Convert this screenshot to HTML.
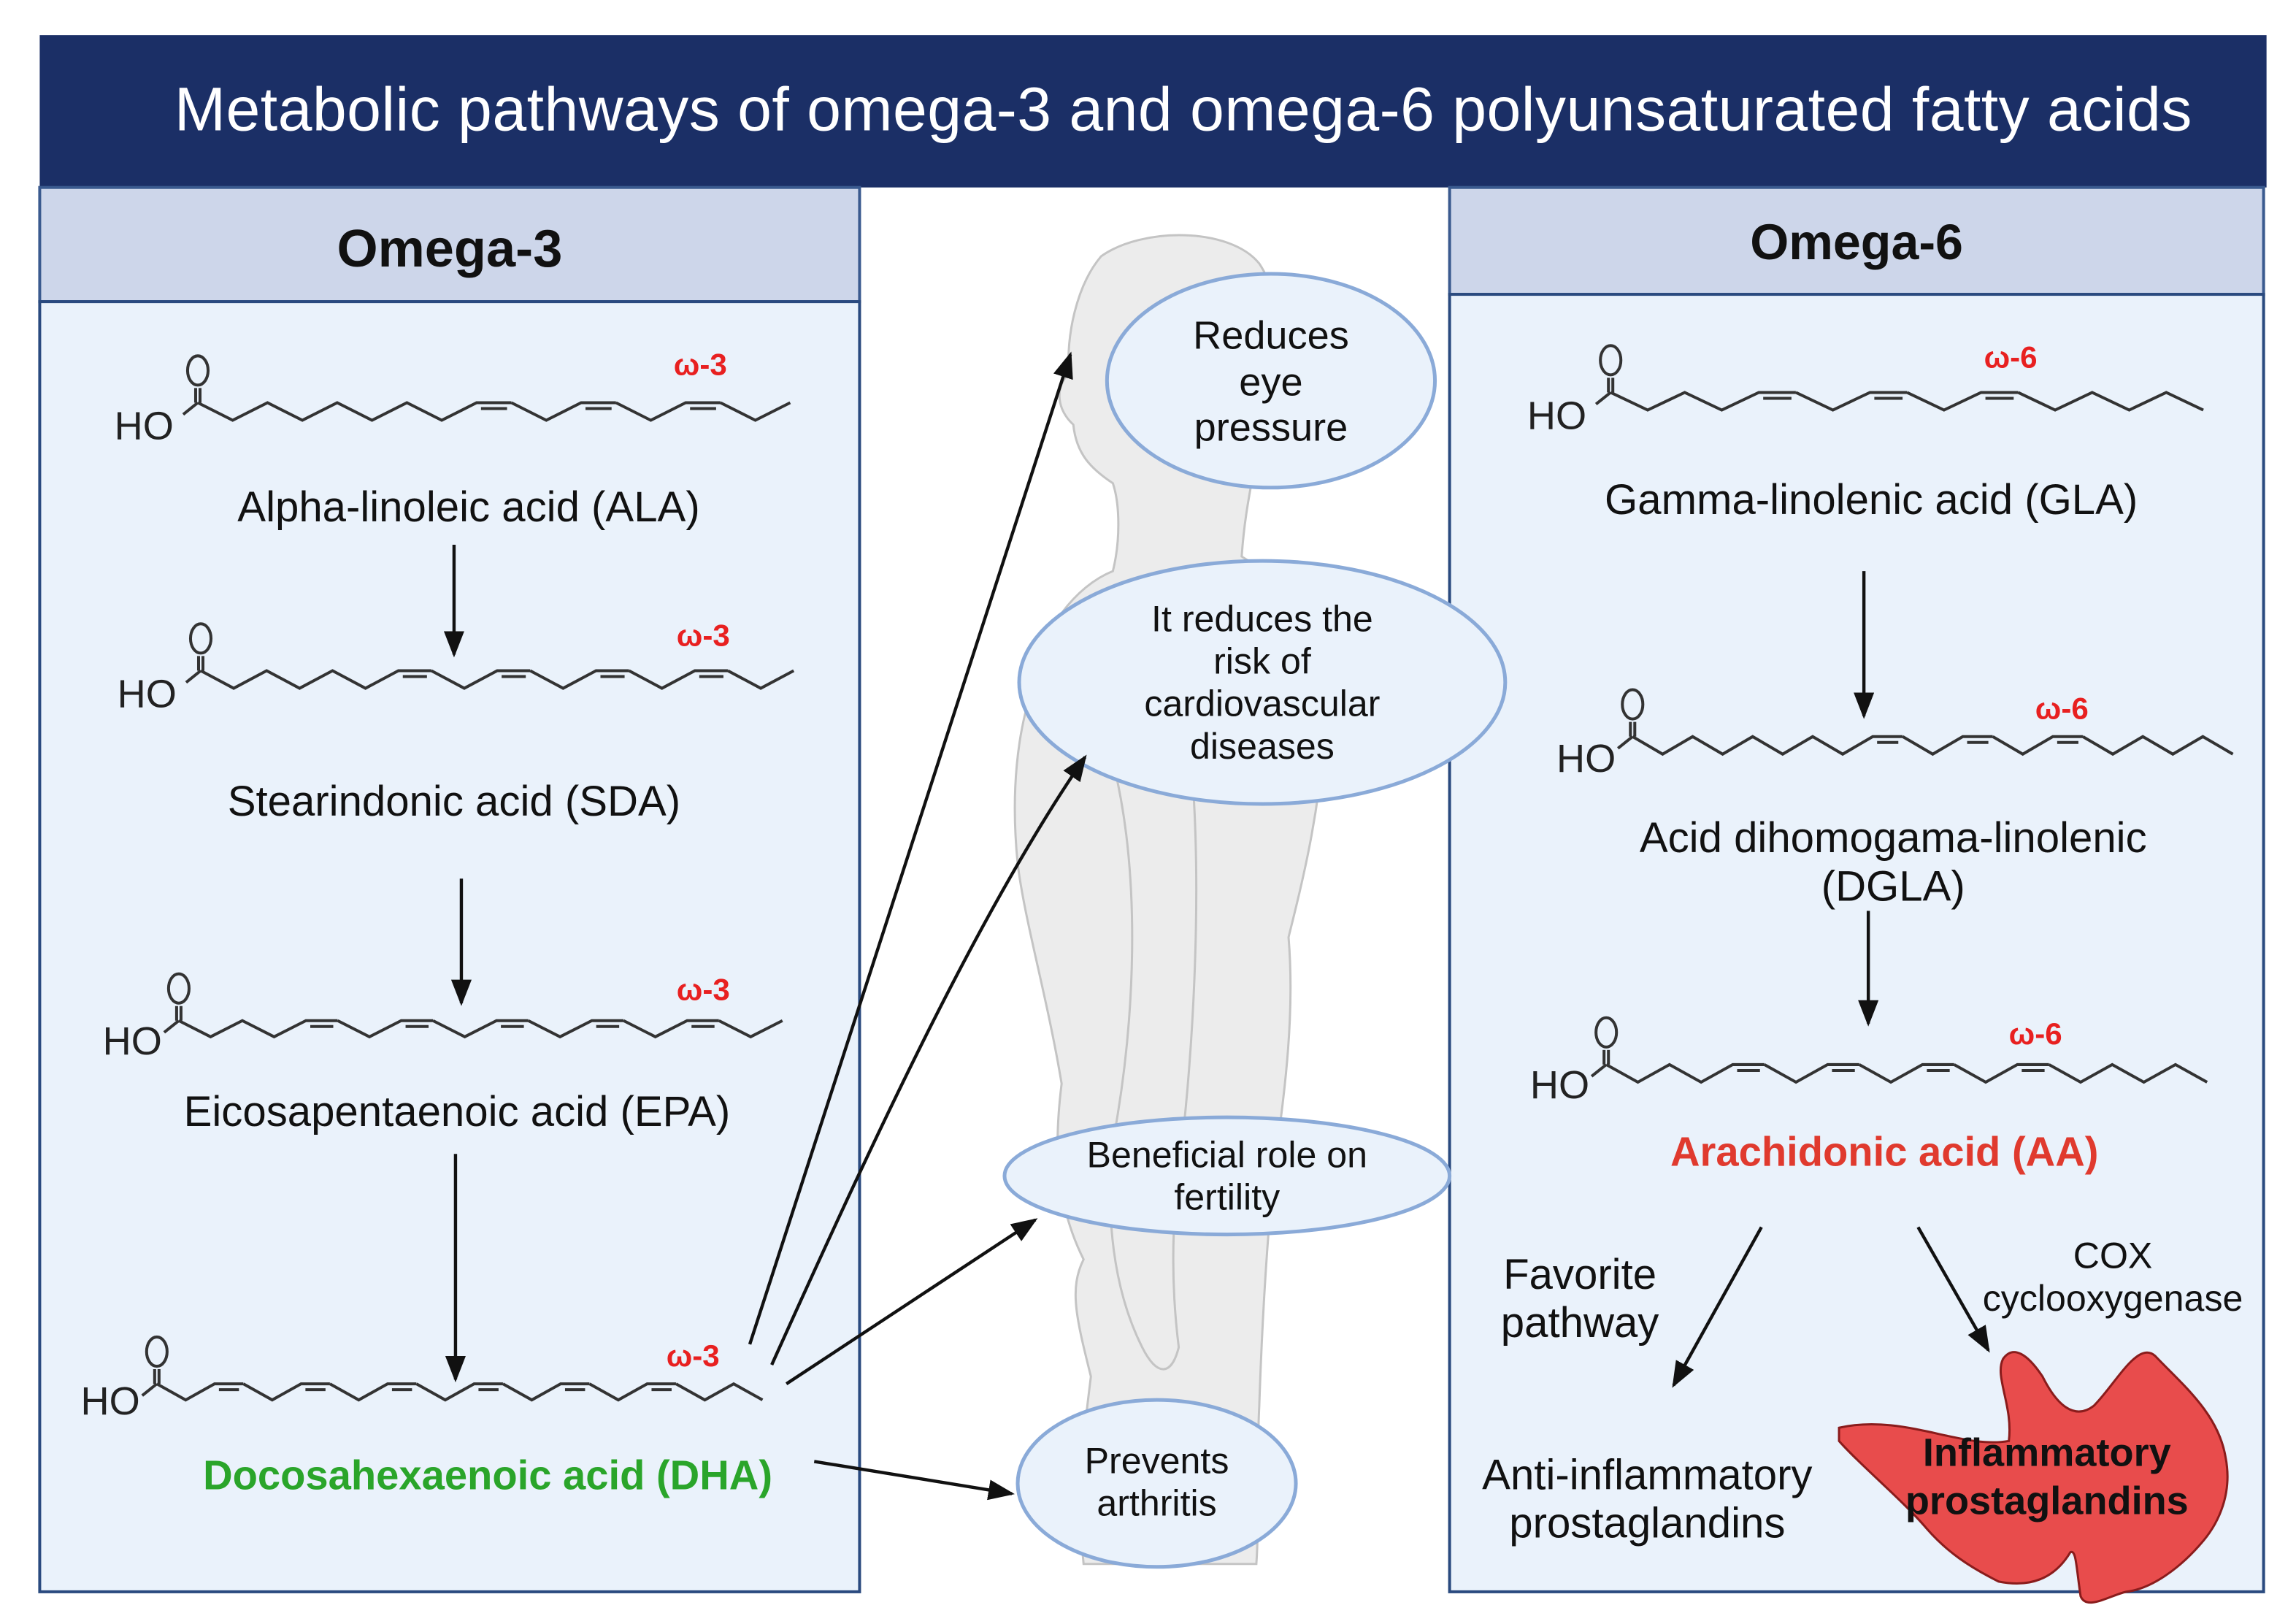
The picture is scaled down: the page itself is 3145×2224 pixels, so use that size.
<!DOCTYPE html>
<html><head><meta charset="utf-8"><style>html,body{margin:0;padding:0;background:#fff}svg{display:block}</style></head>
<body>
<svg width="3145" height="2224" viewBox="0 0 1568 1109" xmlns="http://www.w3.org/2000/svg" font-family="'Liberation Sans', sans-serif">
<defs>
<marker id="ah2" markerWidth="18" markerHeight="14" refX="16" refY="7" orient="auto" markerUnits="userSpaceOnUse"><path d="M0,0 L18,7 L0,14 Z" fill="#111"/></marker>
</defs>
<rect width="1568" height="1109" fill="#fff"/>
<rect x="27" y="24" width="1521" height="104" fill="#1b2f66"/>
<text x="808" y="89" font-size="42" fill="#fff" text-anchor="middle" textLength="1378">Metabolic pathways of omega-3 and omega-6 polyunsaturated fatty acids</text>
<rect x="27" y="128" width="560" height="78" fill="#cdd6ea" stroke="#3a5a8f" stroke-width="2"/>
<rect x="27" y="206" width="560" height="881" fill="#eaf2fb" stroke="#2a4a7f" stroke-width="2"/>
<text x="307" y="182" font-size="36" font-weight="bold" text-anchor="middle" fill="#111">Omega-3</text>
<rect x="990" y="128" width="556" height="73" fill="#cdd6ea" stroke="#3a5a8f" stroke-width="2"/>
<rect x="990" y="201" width="556" height="886" fill="#eaf2fb" stroke="#2a4a7f" stroke-width="2"/>
<text x="1268" y="177" font-size="34" font-weight="bold" text-anchor="middle" fill="#111">Omega-6</text>

<g fill="#ececec" stroke="#c4c4c4" stroke-width="1.5">
<path d="M752,175 C780,155 840,155 860,180 C880,210 875,260 860,300 C855,330 850,350 848,380 C870,395 895,395 900,420 L905,500 C900,560 890,600 880,640 C885,700 875,760 870,800 C865,850 862,900 860,960 C858,1000 860,1040 858,1068 L740,1068 C735,1020 740,980 745,940 C735,900 730,880 740,860 C720,820 720,780 725,740 C715,680 700,630 695,590 C690,540 695,500 705,470 C710,430 735,400 760,390 C765,370 765,345 760,330 C745,320 735,310 733,290 C722,280 720,265 730,255 C728,230 735,195 752,175 Z"/>
<path d="M760,520 C780,600 775,700 760,780 C755,830 760,880 780,920 C790,940 800,940 805,920 C800,880 800,840 805,800 C815,720 820,620 815,540" fill="none"/>
</g>

<g fill="#eaf2fb" stroke="#8aaad8" stroke-width="2.5">
<ellipse cx="868" cy="260" rx="112" ry="73"/>
<ellipse cx="862" cy="466" rx="166" ry="83"/>
<ellipse cx="838" cy="803" rx="152" ry="40"/>
<ellipse cx="790" cy="1013" rx="95" ry="57"/>
</g>
<g font-size="27" text-anchor="middle" fill="#111">
<text x="868" y="238">Reduces</text><text x="868" y="270">eye</text><text x="868" y="301">pressure</text>
<text x="862" y="431" font-size="25">It reduces the</text><text x="862" y="460" font-size="25">risk of</text><text x="862" y="489" font-size="25">cardiovascular</text><text x="862" y="518" font-size="25">diseases</text>
<text x="838" y="797" font-size="25">Beneficial role on</text><text x="838" y="826" font-size="25">fertility</text>
<text x="790" y="1006" font-size="25">Prevents</text><text x="790" y="1035" font-size="25">arthritis</text>
</g>

<g stroke="#333" stroke-width="2" fill="none">
<path d="M135,275 l23.8,12 l23.8,-12 l23.8,12 l23.8,-12 l23.8,12 l23.8,-12 l23.8,12 l23.8,-12 h23.8m-20.8,4h17.8m3,-4 l23.8,12 l23.8,-12 h23.8m-20.8,4h17.8m3,-4 l23.8,12 l23.8,-12 h23.8m-20.8,4h17.8m3,-4 l23.8,12 l23.8,-12"/>
<path d="M137,458 l22.5,12 l22.5,-12 l22.5,12 l22.5,-12 l22.5,12 l22.5,-12 h22.5m-19.5,4h16.5m3,-4 l22.5,12 l22.5,-12 h22.5m-19.5,4h16.5m3,-4 l22.5,12 l22.5,-12 h22.5m-19.5,4h16.5m3,-4 l22.5,12 l22.5,-12 h22.5m-19.5,4h16.5m3,-4 l22.5,12 l22.5,-12"/>
<path d="M122,697 l21.7,11 l21.7,-11 l21.7,11 l21.7,-11 h21.7m-18.7,4h15.7m3,-4 l21.7,11 l21.7,-11 h21.7m-18.7,4h15.7m3,-4 l21.7,11 l21.7,-11 h21.7m-18.7,4h15.7m3,-4 l21.7,11 l21.7,-11 h21.7m-18.7,4h15.7m3,-4 l21.7,11 l21.7,-11 h21.7m-18.7,4h15.7m3,-4 l21.7,11 l21.7,-11"/>
<path d="M107,945 l19.7,11 l19.7,-11 h19.7m-16.7,4h13.7m3,-4 l19.7,11 l19.7,-11 h19.7m-16.7,4h13.7m3,-4 l19.7,11 l19.7,-11 h19.7m-16.7,4h13.7m3,-4 l19.7,11 l19.7,-11 h19.7m-16.7,4h13.7m3,-4 l19.7,11 l19.7,-11 h19.7m-16.7,4h13.7m3,-4 l19.7,11 l19.7,-11 h19.7m-16.7,4h13.7m3,-4 l19.7,11 l19.7,-11 l19.7,11"/>
<path d="M1100,268 l25.3,12 l25.3,-12 l25.3,12 l25.3,-12 h25.3m-22.3,4h19.3m3,-4 l25.3,12 l25.3,-12 h25.3m-22.3,4h19.3m3,-4 l25.3,12 l25.3,-12 h25.3m-22.3,4h19.3m3,-4 l25.3,12 l25.3,-12 l25.3,12 l25.3,-12 l25.3,12"/>
<path d="M1115,503 l20.5,12 l20.5,-12 l20.5,12 l20.5,-12 l20.5,12 l20.5,-12 l20.5,12 l20.5,-12 h20.5m-17.5,4h14.5m3,-4 l20.5,12 l20.5,-12 h20.5m-17.5,4h14.5m3,-4 l20.5,12 l20.5,-12 h20.5m-17.5,4h14.5m3,-4 l20.5,12 l20.5,-12 l20.5,12 l20.5,-12 l20.5,12"/>
<path d="M1097,727 l21.6,12 l21.6,-12 l21.6,12 l21.6,-12 h21.6m-18.6,4h15.6m3,-4 l21.6,12 l21.6,-12 h21.6m-18.6,4h15.6m3,-4 l21.6,12 l21.6,-12 h21.6m-18.6,4h15.6m3,-4 l21.6,12 l21.6,-12 h21.6m-18.6,4h15.6m3,-4 l21.6,12 l21.6,-12 l21.6,12 l21.6,-12 l21.6,12"/>
<path d="M133.5,275v-10M136.5,275v-10M135,275l-10,8"/><ellipse cx="135" cy="253" rx="7" ry="10"/>
<path d="M135.5,458v-10M138.5,458v-10M137,458l-10,8"/><ellipse cx="137" cy="436" rx="7" ry="10"/>
<path d="M120.5,697v-10M123.5,697v-10M122,697l-10,8"/><ellipse cx="122" cy="675" rx="7" ry="10"/>
<path d="M105.5,945v-10M108.5,945v-10M107,945l-10,8"/><ellipse cx="107" cy="923" rx="7" ry="10"/>
<path d="M1098.5,268v-10M1101.5,268v-10M1100,268l-10,8"/><ellipse cx="1100" cy="246" rx="7" ry="10"/>
<path d="M1113.5,503v-10M1116.5,503v-10M1115,503l-10,8"/><ellipse cx="1115" cy="481" rx="7" ry="10"/>
<path d="M1095.5,727v-10M1098.5,727v-10M1097,727l-10,8"/><ellipse cx="1097" cy="705" rx="7" ry="10"/>
</g>
<g font-size="27" fill="#222">
<text x="78" y="300">HO</text><text x="80" y="483">HO</text><text x="70" y="720">HO</text><text x="55" y="966">HO</text>
<text x="1043" y="293">HO</text><text x="1063" y="527">HO</text><text x="1045" y="750">HO</text>
</g>
<g font-size="21" font-weight="bold" fill="#e82020">
<text x="460" y="256">ω-3</text><text x="462" y="441">ω-3</text><text x="462" y="683">ω-3</text><text x="455" y="933">ω-3</text>
<text x="1355" y="251">ω-6</text><text x="1390" y="491">ω-6</text><text x="1372" y="713">ω-6</text>
</g>

<g font-size="29" text-anchor="middle" fill="#111">
<text x="320" y="356">Alpha-linoleic acid  (ALA)</text>
<text x="310" y="557">Stearindonic acid  (SDA)</text>
<text x="312" y="769">Eicosapentaenoic acid (EPA)</text>
<text x="333" y="1017" fill="#2aa52a" font-weight="bold" font-size="28">Docosahexaenoic acid (DHA)</text>
<text x="1278" y="351">Gamma-linolenic acid (GLA)</text>
<text x="1293" y="582">Acid dihomogama-linolenic</text>
<text x="1293" y="615">(DGLA)</text>
<text x="1287" y="796" fill="#e03a2e" font-weight="bold" font-size="28">Arachidonic acid (AA)</text>
<text x="1079" y="880">Favorite</text><text x="1079" y="913">pathway</text>
<text x="1443" y="866" font-size="25">COX</text><text x="1443" y="895" font-size="25">cyclooxygenase</text>
<text x="1125" y="1017">Anti-inflammatory</text><text x="1125" y="1050">prostaglandins</text>
</g>

<path d="M1256,975 C1300,965 1340,990 1372,984 C1375,960 1362,940 1368,928 C1375,918 1385,925 1395,940 C1405,960 1417,970 1430,960 C1445,945 1460,915 1472,926 C1490,945 1515,965 1520,995 C1525,1020 1515,1040 1505,1052 C1490,1070 1470,1085 1452,1087 C1440,1090 1425,1100 1421,1090 C1418,1070 1418,1058 1414,1060 C1405,1075 1390,1085 1365,1080 C1345,1070 1330,1060 1316,1044 C1300,1025 1270,1000 1256,984 Z" fill="#e84c4c" stroke="#8a1c1c" stroke-width="1.5"/>
<text x="1398" y="1001" font-size="27" font-weight="bold" text-anchor="middle" fill="#111">Inflammatory</text>
<text x="1398" y="1034" font-size="27" font-weight="bold" text-anchor="middle" fill="#111">prostaglandins</text>

<g stroke="#111" stroke-width="2.2" fill="none" marker-end="url(#ah2)">
<line x1="310" y1="372" x2="310" y2="447"/>
<line x1="315" y1="600" x2="315" y2="685"/>
<line x1="311" y1="788" x2="311" y2="942"/>
<line x1="1273" y1="390" x2="1273" y2="489"/>
<line x1="1276" y1="622" x2="1276" y2="699"/>
<line x1="512" y1="918" x2="731" y2="242"/>
<path d="M527,932 C600,770 670,620 741,517"/>
<line x1="537" y1="945" x2="707" y2="833"/>
<line x1="556" y1="998" x2="691" y2="1020"/>
<line x1="1203" y1="838" x2="1143" y2="946"/>
<line x1="1310" y1="838" x2="1358" y2="922"/>
</g>
</svg>
</body></html>
